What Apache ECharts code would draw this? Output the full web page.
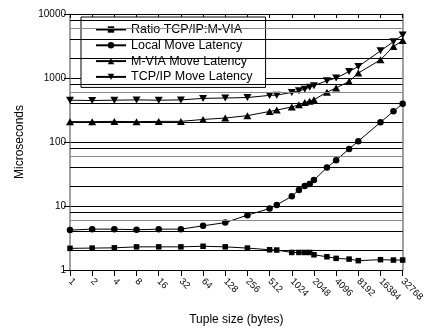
<!DOCTYPE html>
<html><head><meta charset="utf-8">
<script src="https://cdn.jsdelivr.net/npm/echarts@6/dist/echarts.min.js"></script>
<style>html,body{margin:0;padding:0;background:#fff}#c{width:427px;height:331px}</style>
</head><body><div id="c"></div>
<script>
// Tuple sizes (bytes)
const sizes = [1,2,4,8,16,32,64,128,256,512,640,1024,1280,1536,1792,2048,3072,4096,6144,8192,16384,24576,32768];
const ratioTcpVia = [2.18,2.2,2.22,2.3,2.3,2.3,2.35,2.3,2.2,2.07,2.05,1.88,1.88,1.88,1.88,1.73,1.61,1.52,1.48,1.40,1.45,1.43,1.43];
const localMove = [4.2,4.35,4.35,4.25,4.35,4.35,4.9,5.5,7.2,9.1,10.4,14.2,17.8,20.5,22,25.4,39.8,52,78,103,203,302,396];
const mviaMove = [208,208,210,208,210,210,225,237,258,300,315,353,382,415,433,458,600,700,884,1195,1925,3100,3845];
const tcpMove = [450,445,450,455,450,455,480,487,495,535,540,596,630,670,720,760,906,1000,1260,1510,2655,3700,4710];
const seriesNames = ['Ratio TCP/IP:M-VIA','Local Move Latency','M-VIA Move Latency','TCP/IP Move Latency'];
const minorGridValues = [2,4,6,8,20,40,60,80,200,400,600,800,2000,4000,6000,8000];

const FONT = 'Liberation Sans, Arial, sans-serif';
function pairs(vals){ return sizes.map((s,i)=>[s, vals[i]]); }
const downTri = 'path://M0,0 L10,0 L5,9 Z';
const plain = v => String(Math.round(v));

const chart = echarts.init(document.getElementById('c'), null, {renderer:'canvas'});
const base = {type:'line', xAxisIndex:0, yAxisIndex:0, lineStyle:{color:'#000', width:1}, itemStyle:{color:'#000'}, animation:false};
chart.setOption({
  animation:false,
  backgroundColor:'#fff',
  grid:{left:70, right:15, top:14, bottom:60, containLabel:false},
  legend:{
    data: seriesNames, orient:'vertical', left:81, top:17,
    padding:[6,13,4,14], itemWidth:30, itemHeight:8, itemGap:2.8,
    backgroundColor:'#fff', borderColor:'#000', borderWidth:1,
    textStyle:{fontFamily:FONT, fontSize:12.5, color:'#000'}
  },
  xAxis:[{
    type:'log', logBase:2, min:1, max:32768, interval:1, position:'bottom',
    axisLine:{lineStyle:{color:'#000', width:1}},
    axisTick:{length:6, lineStyle:{color:'#000'}},
    axisLabel:{rotate:-45, fontSize:9.5, color:'#000', fontFamily:FONT, margin:10, formatter:plain},
    splitLine:{show:false},
    name:'Tuple size (bytes)', nameLocation:'middle', nameGap:44,
    nameTextStyle:{fontFamily:FONT, fontSize:12, color:'#000'}
  },{
    type:'log', logBase:2, min:1, max:32768, interval:1, position:'top',
    axisLine:{lineStyle:{color:'#000', width:1}},
    axisTick:{inside:true, length:4, lineStyle:{color:'#000'}},
    axisLabel:{show:false}, splitLine:{show:false}
  }],
  yAxis:[{
    type:'log', min:1, max:10000,
    axisLine:{lineStyle:{color:'#808080', width:1.5}},
    axisTick:{length:6, lineStyle:{color:'#000'}},
    axisLabel:{fontSize:10, color:'#000', fontFamily:FONT, margin:4, formatter:plain},
    splitLine:{show:true, lineStyle:{color:'#000', width:1}},
    name:'Microseconds', nameLocation:'middle', nameGap:44,
    nameTextStyle:{fontFamily:FONT, fontSize:12, color:'#000'}
  },{
    type:'log', min:1, max:10000, position:'right',
    axisLine:{show:true, lineStyle:{color:'#808080', width:1.5}},
    axisTick:{show:false}, axisLabel:{show:false}, splitLine:{show:false}
  }],
  series:[
    {type:'line', name:'_grid', data:[], xAxisIndex:0, yAxisIndex:0, silent:true,
     markLine:{silent:true, symbol:['none','none'], label:{show:false}, animation:false,
       lineStyle:{type:'solid', color:'#000', width:1},
       data: minorGridValues.map(v=>({yAxis:v, lineStyle:{type:'solid', width:1, color: (String(v)[0]==='6') ? '#888' : '#000'}}))}},
    Object.assign({}, base, {name:seriesNames[0], data:pairs(ratioTcpVia), symbol:'rect', symbolSize:5.5}),
    Object.assign({}, base, {name:seriesNames[1], data:pairs(localMove), symbol:'circle', symbolSize:6.5}),
    Object.assign({}, base, {name:seriesNames[2], data:pairs(mviaMove), symbol:'triangle', symbolSize:[8,7]}),
    Object.assign({}, base, {name:seriesNames[3], data:pairs(tcpMove), symbol:downTri, symbolSize:[8,7]})
  ]
});
</script></body></html>
